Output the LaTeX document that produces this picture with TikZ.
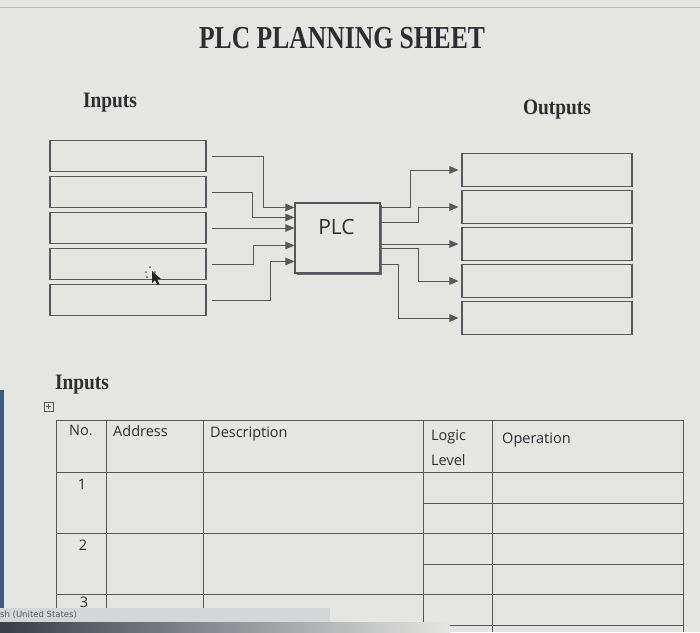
\documentclass[tikz,border=0pt]{standalone}
\usepackage{graphicx}
\usepackage{fontspec}
\setmainfont{Liberation Serif}
\newfontfamily\comic{Open Sans}
\newfontfamily\uisans{DejaVu Sans}
\usetikzlibrary{arrows.meta,shadows}
\definecolor{bg}{RGB}{229,229,226}
\definecolor{ln}{RGB}{88,88,92}
\definecolor{tx}{RGB}{45,45,50}
\definecolor{bar}{RGB}{212,214,216}
\definecolor{dark}{RGB}{55,62,72}
\definecolor{edge}{RGB}{60,88,125}
\begin{document}
\begin{tikzpicture}[x=1pt,y=-1pt,
  ibox/.style={draw=ln,line width=1.1pt,minimum width=156pt,minimum height=31pt,inner sep=0pt},
  obox/.style={draw=ln,line width=1.1pt,minimum width=170pt,minimum height=33pt,inner sep=0pt},
  plcbox/.style={draw=ln,line width=1.1pt,fill=bg,minimum width=85pt,minimum height=70pt,
    drop shadow={shadow xshift=1.6pt,shadow yshift=-1.6pt,fill=ln,opacity=0.85}},
  plctext/.style={text=tx,font=\comic\fontsize{21}{24}\selectfont,inner sep=0pt},
  wire/.style={draw=ln,line width=1pt},
  arr/.style={wire,-{Triangle[length=9pt,width=7.5pt]}},
  head/.style={text=tx,font=\bfseries\fontsize{22}{24}\selectfont,inner sep=0pt},
  cell/.style={text=tx,font=\comic\fontsize{14.5}{22}\selectfont,inner sep=0pt,align=left},
  gridline/.style={draw=ln,line width=0.8pt}
]
\useasboundingbox (0,0) rectangle (700,632);
\fill[bg] (0,0) rectangle (700,632);
\draw[ln!40,line width=0.8pt] (0,7) -- (700,7);

% headings
\node[text=tx,font=\bfseries\fontsize{32}{34}\selectfont,inner sep=0pt] (title) at (342,38) {\scalebox{0.8}[1]{PLC PLANNING SHEET}};
\node[head] (hin) at (110,103) {\scalebox{0.88}[1]{Inputs}};
\node[head] (hout) at (557,110) {\scalebox{0.88}[1]{Outputs}};

% input boxes
\node[ibox] (in1) at (128,156) {};
\node[ibox] (in2) at (128,192) {};
\node[ibox] (in3) at (128,228) {};
\node[ibox] (in4) at (128,264) {};
\node[ibox] (in5) at (128,300) {};

% output boxes
\node[obox] (out1) at (547,170) {};
\node[obox] (out2) at (547,207) {};
\node[obox] (out3) at (547,244) {};
\node[obox] (out4) at (547,281) {};
\node[obox] (out5) at (547,318) {};

% PLC
\node[plcbox] (plc) at (337.5,238) {};
\node[plctext] (plclabel) at (336.5,227) {PLC};

% input wires
\draw[arr] ([xshift=5pt]in1.east) -- ++(52,0) |- ([yshift=-5pt]plc.north west);
\draw[arr] ([xshift=5pt]in2.east) -- ++(41,0) |- ([yshift=-15pt]plc.north west);
\draw[arr] ([xshift=5pt]in3.east) -- (plc.west |- in3.east);
\draw[arr] ([xshift=5pt]in4.east) -- ++(42,0) |- ([yshift=-43pt]plc.north west);
\draw[arr] ([xshift=5pt]in5.east) -- ++(59,0) |- ([yshift=-59pt]plc.north west);

% output wires
\draw[arr,shorten >=3pt] ([yshift=-5pt]plc.north east) -- ++(30,0) |- (out1.west);
\draw[arr,shorten >=3pt] ([yshift=-20pt]plc.north east) -- ++(38,0) |- (out2.west);
\draw[arr,shorten >=3pt] (plc.east |- out3.west) -- (out3.west);
\draw[arr,shorten >=3pt] ([yshift=-46pt]plc.north east) -- ++(38,0) |- (out4.west);
\draw[arr,shorten >=3pt] ([yshift=-62pt]plc.north east) -- ++(18,0) |- (out5.west);

% cursor
\fill[black!85] (152,271) -- (152,283) -- (155,280) -- (157.5,285) -- (159.5,284) -- (157,279) -- (161,279) -- cycle;
\foreach \p in {(150,267),(146,272),(155,272),(147,277)} \fill[ln] \p circle (1pt);

% lower table
\node[head] (hin2) at (82,385) {\scalebox{0.88}[1]{Inputs}};
\draw[ln,line width=0.6pt] (44,402) rectangle (53,411);
\draw[ln,line width=0.6pt] (48.5,404) -- (48.5,409) (46,406.5) -- (51,406.5);

\foreach \x in {56,106,203,423,492,683} \draw[gridline] (\x,420) -- (\x,632);
\foreach \y in {420,472,533,594} \draw[gridline] (56,\y) -- (683,\y);
\foreach \y in {503,564,625} \draw[gridline] (423,\y) -- (683,\y);

\node[cell] (cno) at (81,430) {No.};
\node[cell,anchor=west] (cad) at (113,431) {Address};
\node[cell,anchor=west] (cde) at (210,434) {Description};
\node[cell,anchor=west] (clo) at (431,437) {Logic};
\node[cell,anchor=west] (clv) at (431,460) {Level};
\node[cell,anchor=west] (cop) at (502,440) {Operation};
\node[cell] (r1) at (82,484) {1};
\node[cell] (r2) at (83,545) {2};
\node[cell] (r3) at (84,602) {3};

% status bar
\fill[bar] (0,608) rectangle (330,622);
\shade[left color=dark,right color=bg] (0,622) rectangle (450,632);
\node[anchor=west,inner sep=0pt,text=ln,font=\uisans\fontsize{8.5}{10}\selectfont] (status) at (0,615) {sh (United States)};
\fill[edge] (0,390) rectangle (4,608);
\end{tikzpicture}
\end{document}
